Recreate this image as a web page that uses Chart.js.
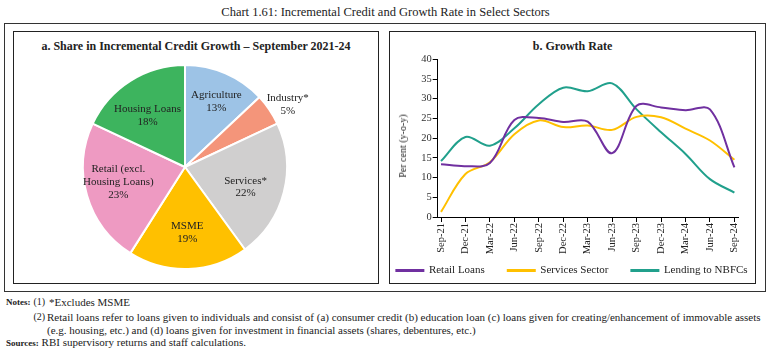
<!DOCTYPE html>
<html>
<head>
<meta charset="utf-8">
<script src="https://cdn.jsdelivr.net/npm/chart.js@4.4.0/dist/chart.umd.min.js"></script>
<style>
  html,body{margin:0;padding:0;}
  body{width:771px;height:356px;background:#fff;position:relative;overflow:hidden;font-family:"Liberation Serif",serif;color:#222;}
  .abs{position:absolute;box-sizing:border-box;}
  #mainTitle{left:0;top:4px;width:771px;text-align:center;font-size:12.5px;line-height:16px;color:#222;}
  #outer{left:4px;top:23px;width:762px;height:269px;border:1px solid #333;}
  #panelA{left:13px;top:31px;width:366px;height:253px;border:1.5px solid #222;}
  #panelB{left:389px;top:31px;width:367px;height:253px;border:1.5px solid #222;}
  #titleA{left:13px;top:38px;width:366px;text-align:center;font-size:12px;line-height:16px;font-weight:bold;}
  #titleB{left:389px;top:38px;width:367px;text-align:center;font-size:12px;line-height:16px;font-weight:bold;}
  #yTitle{left:403px;top:145.5px;font-size:10px;line-height:12px;white-space:nowrap;transform:translate(-50%,-50%) rotate(-90deg);}
  .note{font-size:11px;line-height:12px;white-space:nowrap;}
  .num{font-size:10px;}
  .lab{font-size:9px;font-weight:bold;}
  #pieCanvasWrap{left:13px;top:31px;width:366px;height:253px;}
  #lineCanvasWrap{left:341px;top:33px;width:462px;height:256px;}
</style>
</head>
<body>
<div class="abs" id="mainTitle">Chart 1.61: Incremental Credit and Growth Rate in Select Sectors</div>
<div class="abs" id="outer"></div>
<div class="abs" id="panelA"></div>
<div class="abs" id="panelB"></div>
<div class="abs" id="titleA">a. Share in Incremental Credit Growth – September 2021-24</div>
<div class="abs" id="titleB">b. Growth Rate</div>
<div class="abs" id="pieCanvasWrap"><canvas id="pie" width="366" height="253"></canvas></div>
<div class="abs" id="lineCanvasWrap"><canvas id="line" width="462" height="256"></canvas></div>
<div class="abs" id="yTitle">Per cent (y-o-y)</div>

<div class="abs note lab" style="left:6px;top:296px;">Notes:</div>
<div class="abs note num" style="left:33.5px;top:296px;">(1)</div>
<div class="abs note" style="left:49px;top:296px;">*Excludes MSME</div>
<div class="abs note num" style="left:33.5px;top:311px;">(2)</div>
<div class="abs note" style="left:47px;top:311px;">Retail loans refer to loans given to individuals and consist of (a) consumer credit (b) education loan (c) loans given for creating/enhancement of immovable assets</div>
<div class="abs note" style="left:47px;top:323.5px;">(e.g. housing, etc.) and (d) loans given for investment in financial assets (shares, debentures, etc.)</div>
<div class="abs note" style="left:6px;top:336px;"><span class="lab">Sources:</span> RBI supervisory returns and staff calculations.</div>

<script>
// ---------- Data ----------
const pieCategories = ['Agriculture', 'Industry*', 'Services*', 'MSME', 'Retail (excl. Housing Loans)', 'Housing Loans'];
const pieShares = [13, 5, 22, 19, 23, 18];
const pieLabelLines = [['Agriculture'], ['Industry*'], ['Services*'], ['MSME'], ['Retail (excl.', 'Housing Loans)'], ['Housing Loans']];

const quarters = ['Sep-21','Dec-21','Mar-22','Jun-22','Sep-22','Dec-22','Mar-23','Jun-23','Sep-23','Dec-23','Mar-24','Jun-24','Sep-24'];
const retailLoans    = [13.4, 12.9, 13.7, 24.6, 25.1, 24.1, 24.2, 16.2, 28.2, 27.8, 27.1, 27.3, 12.6];
const servicesSector = [1.3, 10.9, 13.9, 21.0, 24.5, 22.8, 23.2, 22.1, 25.4, 25.3, 22.4, 19.4, 14.5];
const lendingToNBFCs = [14.2, 20.3, 18.1, 22.5, 28.6, 32.8, 31.9, 33.9, 27.3, 21.5, 16.0, 9.6, 6.2];
const seriesNames = ['Retail Loans', 'Services Sector', 'Lending to NBFCs'];

// ---------- Styles ----------
const pieColors = ['#9DC3E6', '#F4957A', '#D0CFCF', '#FFC000', '#EE9AC2', '#3DB45E'];
const pieLabelRadius = [0.71, 1.18, 0.625, 0.64, 0.67, 0.626];
const pieLabelAngleShiftDeg = [2.3, 2.8, 3.9, -0.2, 3.5, -3.6];
const lineColors = ['#7030A0', '#FFC000', '#21A08C'];
const FONT = '"Liberation Serif", serif';

// ---------- Pie ----------
const pieLabelPlugin = {
  id: 'pieLabels',
  afterDatasetsDraw(chart) {
    const ctx = chart.ctx;
    const meta = chart.getDatasetMeta(0);
    ctx.save();
    ctx.font = '11px ' + FONT;
    ctx.fillStyle = '#222';
    ctx.textAlign = 'center';
    ctx.textBaseline = 'middle';
    meta.data.forEach((arc, i) => {
      const p = arc.getProps(['x','y','startAngle','endAngle','outerRadius'], true);
      const mid = (p.startAngle + p.endAngle) / 2 + pieLabelAngleShiftDeg[i] * Math.PI / 180;
      const r = p.outerRadius * pieLabelRadius[i];
      const cx = p.x + Math.cos(mid) * r;
      const cy = p.y + Math.sin(mid) * r;
      const lines = pieLabelLines[i].concat([chart.data.datasets[0].data[i] + '%']);
      const lh = 12.8;
      const y0 = cy - (lines.length - 1) * lh / 2;
      lines.forEach((t, k) => ctx.fillText(t, cx, y0 + k * lh));
    });
    ctx.restore();
  }
};

new Chart(document.getElementById('pie'), {
  type: 'pie',
  data: {
    labels: pieCategories,
    datasets: [{ data: pieShares, backgroundColor: pieColors, borderColor: '#fff', borderWidth: 2 }]
  },
  options: {
    responsive: false,
    animation: false,
    layout: { padding: { left: 68.5, right: 90.5, top: 33, bottom: 14 } },
    plugins: { legend: { display: false }, tooltip: { enabled: false }, title: { display: false } }
  },
  plugins: [pieLabelPlugin]
});

// ---------- Line ----------
const toPoints = arr => arr.map((v, i) => ({ x: i, y: v }));
new Chart(document.getElementById('line'), {
  type: 'line',
  data: {
    datasets: [retailLoans, servicesSector, lendingToNBFCs].map((arr, k) => ({
      label: seriesNames[k],
      data: toPoints(arr),
      borderColor: lineColors[k],
      backgroundColor: lineColors[k],
      borderWidth: 2,
      pointRadius: 0,
      tension: 0.35,
      fill: false
    }))
  },
  options: {
    responsive: false,
    animation: false,
    layout: { padding: { left: 0, right: 0, top: 26.3, bottom: 3 } },
    plugins: {
      tooltip: { enabled: false },
      legend: {
        position: 'bottom',
        labels: { boxWidth: 27, boxHeight: 1, padding: 23, color: '#222', font: { family: FONT, size: 11 } }
      }
    },
    scales: {
      x: {
        type: 'linear',
        min: -0.135,
        max: 12.147,
        afterBuildTicks: s => { s.ticks = quarters.map((q, i) => ({ value: i })); },
        afterFit: s => { s.height = 25; s._computeLabelArea = () => undefined; },
        ticks: {
          autoSkip: false, minRotation: 90, maxRotation: 90, padding: 1,
          color: '#222', font: { family: FONT, size: 10.5 },
          callback: v => quarters[Math.round(v)]
        },
        grid: { drawOnChartArea: false, drawTicks: true, tickLength: 5, color: '#000', lineWidth: 1 },
        border: { display: true, color: '#000', width: 1 }
      },
      y: {
        min: 0, max: 40,
        afterFit: s => { s.width = 96.7; },
        ticks: { stepSize: 5, padding: 1, color: '#333', font: { family: FONT, size: 10.5 } },
        grid: { drawOnChartArea: false, drawTicks: true, tickLength: 5, color: '#000', lineWidth: 1 },
        border: { display: true, color: '#000', width: 1 }
      },
      spacer: {
        type: 'linear',
        position: 'right',
        display: true,
        afterFit: s => { s.width = 65; },
        ticks: { display: false },
        grid: { display: false, drawTicks: false },
        border: { display: false }
      }
    }
  }
});
</script>
</body>
</html>
